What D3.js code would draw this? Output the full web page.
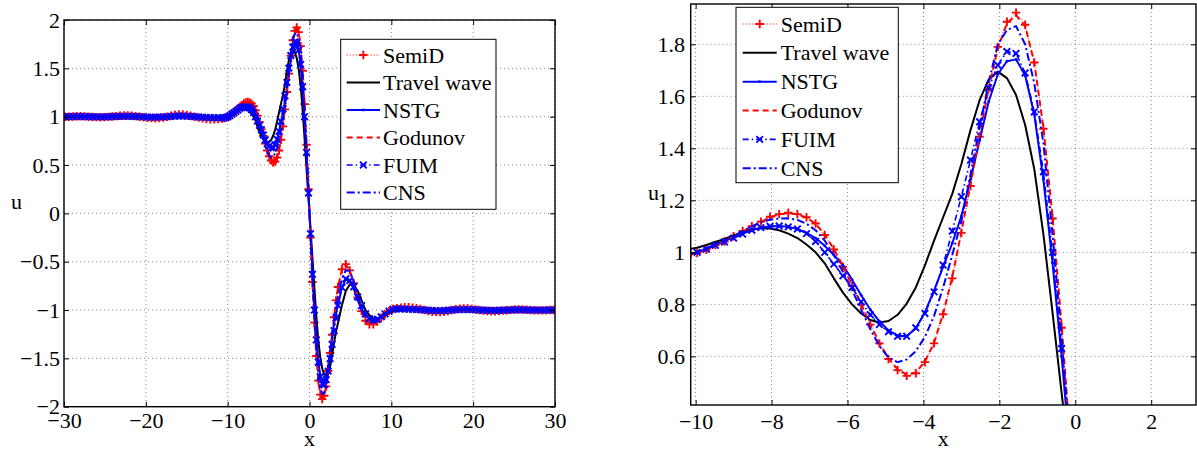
<!DOCTYPE html>
<html>
<head>
<meta charset="utf-8">
<script src="https://cdn.jsdelivr.net/npm/d3@7"></script>
<style>
  body { margin: 0; background: #fff; }
  svg { display: block; }
  svg text { font-family: "Liberation Serif", "Times New Roman", serif; }
</style>
</head>
<body>
<svg id="chart" width="1197" height="451"></svg>
<script>
// --- sample grid (x) : coarse far from the wave, fine near it ---
const xFarLeft = [-29.88, -29.40, -28.92, -28.44, -27.96, -27.48, -27.00, -26.52, -26.04, -25.56, -25.08, -24.60, -24.12, -23.64, -23.16, -22.68, -22.20, -21.72, -21.24, -20.76, -20.28, -19.80, -19.32, -18.84, -18.36, -17.88, -17.40, -16.92, -16.44, -15.96, -15.48, -15.00, -14.52, -14.04, -13.56, -13.08, -12.60, -12.12, -11.64, -11.16, -10.68];
const xCore = [-10.44, -10.20, -9.96, -9.72, -9.48, -9.24, -9.00, -8.76, -8.52, -8.28, -8.04, -7.80, -7.56, -7.32, -7.08, -6.84, -6.60, -6.36, -6.12, -5.88, -5.64, -5.40, -5.16, -4.92, -4.68, -4.44, -4.20, -3.96, -3.72, -3.48, -3.24, -3.00, -2.76, -2.52, -2.28, -2.04, -1.80, -1.56, -1.32, -1.08, -0.84, -0.60, -0.36, -0.12, 0.12, 0.36, 0.60, 0.84, 1.08, 1.32, 1.56, 1.80, 2.04, 2.28, 2.52, 2.76, 3.00, 3.24, 3.48];
const xFarRight = [3.96, 4.44, 4.92, 5.40, 5.88, 6.36, 6.84, 7.32, 7.80, 8.28, 8.76, 9.24, 9.72, 10.20, 10.68, 11.16, 11.64, 12.12, 12.60, 13.08, 13.56, 14.04, 14.52, 15.00, 15.48, 15.96, 16.44, 16.92, 17.40, 17.88, 18.36, 18.84, 19.32, 19.80, 20.28, 20.76, 21.24, 21.72, 22.20, 22.68, 23.16, 23.64, 24.12, 24.60, 25.08, 25.56, 26.04, 26.52, 27.00, 27.48, 27.96, 28.44, 28.92, 29.40, 29.88];
const xs = [...xFarLeft, ...xCore, ...xFarRight];

// --- series values (u) ---
const semiD = [
  1.0, 1.0, 1.002, 1.004, 1.004, 1.003, 1.0, 0.997, 0.995, 0.994, 0.995, 0.998, 1.002, 1.006, 1.01, 1.012, 1.012, 1.01, 1.006, 1.0, 0.994, 0.988, 0.985, 0.984, 0.986, 0.992, 1.0, 1.01, 1.018, 1.022, 1.022, 1.018, 1.01, 1.0, 0.99, 0.982, 0.975, 0.972, 0.972, 0.975, 0.98,
  0.985, 0.99, 0.997, 1.01, 1.028, 1.042, 1.062, 1.082, 1.101, 1.118, 1.137, 1.147, 1.152, 1.147, 1.135, 1.111, 1.067, 1.011, 0.945, 0.87, 0.80, 0.722, 0.65, 0.59, 0.547, 0.525, 0.535, 0.578, 0.65, 0.762, 0.90, 1.075, 1.255, 1.445, 1.63, 1.79, 1.887, 1.922, 1.875, 1.73, 1.475, 1.13, 0.71, 0.25,
  -0.25, -0.71, -1.13, -1.475, -1.73, -1.875, -1.922, -1.887, -1.79, -1.63, -1.445, -1.255, -1.075, -0.90, -0.762,
  -0.578, -0.525, -0.59, -0.722, -0.87, -1.011, -1.111, -1.147, -1.147, -1.118, -1.082, -1.042, -1.01, -0.99,
  -0.98, -0.975, -0.972, -0.972, -0.975, -0.982, -0.99, -1.0, -1.01, -1.018, -1.022, -1.022, -1.018, -1.01, -1.0, -0.992, -0.986, -0.984, -0.985, -0.988, -0.994, -1.0, -1.006, -1.01, -1.012, -1.012, -1.01, -1.006, -1.002, -0.998, -0.995, -0.994, -0.995, -0.997, -1.0, -1.003, -1.004, -1.004, -1.002, -1.0, -1.0
];

const godunov = [
  1.0, 1.0, 1.002, 1.003, 1.003, 1.002, 1.0, 0.998, 0.996, 0.995, 0.996, 0.998, 1.002, 1.005, 1.008, 1.01, 1.01, 1.008, 1.005, 1.0, 0.995, 0.99, 0.988, 0.987, 0.989, 0.994, 1.0, 1.008, 1.015, 1.018, 1.018, 1.015, 1.008, 1.0, 0.992, 0.985, 0.979, 0.977, 0.977, 0.979, 0.983,
  0.987, 0.991, 0.998, 1.01, 1.027, 1.042, 1.061, 1.08, 1.099, 1.117, 1.135, 1.146, 1.15, 1.146, 1.134, 1.11, 1.068, 1.013, 0.948, 0.874, 0.802, 0.724, 0.652, 0.592, 0.55, 0.53, 0.538, 0.58, 0.652, 0.765, 0.905, 1.08, 1.26, 1.45, 1.63, 1.785, 1.88, 1.912, 1.87, 1.73, 1.48, 1.14, 0.72, 0.25,
  -0.25, -0.72, -1.14, -1.48, -1.73, -1.87, -1.912, -1.88, -1.785, -1.63, -1.45, -1.26, -1.08, -0.905, -0.765,
  -0.58, -0.53, -0.592, -0.724, -0.874, -1.013, -1.11, -1.146, -1.146, -1.117, -1.08, -1.042, -1.01, -0.991,
  -0.983, -0.979, -0.977, -0.977, -0.979, -0.985, -0.992, -1.0, -1.008, -1.015, -1.018, -1.018, -1.015, -1.008, -1.0, -0.994, -0.989, -0.987, -0.988, -0.99, -0.995, -1.0, -1.005, -1.008, -1.01, -1.01, -1.008, -1.005, -1.002, -0.998, -0.996, -0.995, -0.996, -0.998, -1.0, -1.002, -1.003, -1.003, -1.002, -1.0, -1.0
];

// flat tails shared by the three blue schemes
const blueTailLeft = [1.0, 1.0, 1.001, 1.001, 1.001, 1.001, 1.0, 0.999, 0.998, 0.998, 0.998, 0.999, 1.001, 1.002, 1.003, 1.004, 1.004, 1.003, 1.002, 1.0, 0.998, 0.996, 0.995, 0.995, 0.996, 0.998, 1.0, 1.003, 1.005, 1.006, 1.006, 1.005, 1.003, 1.0, 0.997, 0.995, 0.993, 0.991, 0.99, 0.989, 0.988];
const blueTailRight = [-0.988, -0.989, -0.99, -0.991, -0.993, -0.995, -0.997, -1.0, -1.003, -1.005, -1.006, -1.006, -1.005, -1.003, -1.0, -0.998, -0.996, -0.995, -0.995, -0.996, -0.998, -1.0, -1.002, -1.003, -1.004, -1.004, -1.003, -1.002, -1.001, -0.999, -0.998, -0.998, -0.998, -0.999, -1.0, -1.001, -1.001, -1.001, -1.001, -1.0, -1.0];

const nstg = [
  ...blueTailLeft,
  0.988, 0.992, 1.0, 1.015, 1.03, 1.045, 1.058, 1.072, 1.085, 1.095, 1.10, 1.10, 1.098, 1.09, 1.075, 1.055, 1.025, 0.99, 0.95, 0.895, 0.835, 0.78, 0.735, 0.70, 0.68, 0.677, 0.708, 0.77, 0.853, 0.945, 1.035, 1.14, 1.28, 1.43, 1.58, 1.685, 1.735, 1.742, 1.68, 1.53, 1.28, 0.96, 0.60, 0.20,
  -0.20, -0.60, -0.96, -1.28, -1.53, -1.68, -1.742, -1.735, -1.685, -1.58, -1.43, -1.28, -1.14, -1.035, -0.945,
  -0.77, -0.677, -0.70, -0.78, -0.895, -0.99, -1.055, -1.09, -1.10, -1.095, -1.072, -1.045, -1.015, -0.992,
  ...blueTailRight
];

const fuim = [
  ...blueTailLeft,
  0.988, 0.992, 1.0, 1.012, 1.027, 1.04, 1.055, 1.07, 1.085, 1.095, 1.10, 1.101, 1.098, 1.09, 1.072, 1.042, 1.0, 0.955, 0.91, 0.865, 0.81, 0.76, 0.722, 0.695, 0.677, 0.677, 0.71, 0.765, 0.848, 0.951, 1.082, 1.214, 1.355, 1.502, 1.632, 1.72, 1.772, 1.765, 1.69, 1.54, 1.31, 1.0, 0.63, 0.21,
  -0.21, -0.63, -1.0, -1.31, -1.54, -1.69, -1.765, -1.772, -1.72, -1.632, -1.502, -1.355, -1.214, -1.082, -0.951,
  -0.765, -0.677, -0.695, -0.76, -0.865, -0.955, -1.042, -1.09, -1.101, -1.095, -1.07, -1.04, -1.012, -0.992,
  ...blueTailRight
];

const cns = [
  ...blueTailLeft,
  0.987, 0.992, 1.0, 1.014, 1.03, 1.045, 1.062, 1.082, 1.10, 1.115, 1.126, 1.13, 1.131, 1.125, 1.11, 1.085, 1.045, 0.99, 0.925, 0.855, 0.78, 0.705, 0.64, 0.595, 0.578, 0.588, 0.62, 0.675, 0.755, 0.865, 0.99, 1.12, 1.30, 1.48, 1.655, 1.80, 1.855, 1.87, 1.80, 1.65, 1.42, 1.07, 0.67, 0.23,
  -0.23, -0.67, -1.07, -1.42, -1.65, -1.80, -1.87, -1.855, -1.80, -1.655, -1.48, -1.30, -1.12, -0.99, -0.865,
  -0.675, -0.588, -0.595, -0.705, -0.855, -0.99, -1.085, -1.125, -1.13, -1.115, -1.082, -1.045, -1.014, -0.992,
  ...blueTailRight
];

const travelWave = [
  1.0, 1.0, 1.0, 1.0, 1.0, 1.0, 1.0, 1.0, 1.0, 1.0, 1.0, 1.0, 1.0, 1.0, 1.0, 1.0, 1.0, 1.0, 1.0, 1.0, 1.0, 1.0, 1.0, 1.0, 1.0, 1.0, 1.0, 1.0, 1.0, 1.0, 1.0, 1.0, 1.0, 1.0, 1.0, 0.999, 0.999, 0.999, 1.0, 1.002, 1.005,
  1.008, 1.012, 1.018, 1.028, 1.04, 1.052, 1.065, 1.078, 1.088, 1.093, 1.092, 1.085, 1.072, 1.055, 1.03, 1.0, 0.958, 0.90, 0.845, 0.80, 0.765, 0.74, 0.73, 0.736, 0.76, 0.803, 0.865, 0.95, 1.045, 1.135, 1.225, 1.34, 1.47, 1.585, 1.665, 1.695, 1.67, 1.605, 1.49, 1.32, 1.07, 0.77, 0.46, 0.15,
  -0.15, -0.46, -0.77, -1.07, -1.32, -1.49, -1.605, -1.67, -1.695, -1.665, -1.585, -1.47, -1.34, -1.225, -1.135,
  -0.95, -0.803, -0.736, -0.74, -0.80, -0.90, -1.0, -1.055, -1.085, -1.093, -1.078, -1.052, -1.028, -1.012,
  -1.005, -1.002, -1.0, -0.999, -0.999, -0.999, -1.0, -1.0, -1.0, -1.0, -1.0, -1.0, -1.0, -1.0, -1.0, -1.0, -1.0, -1.0, -1.0, -1.0, -1.0, -1.0, -1.0, -1.0, -1.0, -1.0, -1.0, -1.0, -1.0, -1.0, -1.0, -1.0, -1.0, -1.0, -1.0, -1.0, -1.0, -1.0, -1.0, -1.0, -1.0
];

// axis ticks
const leftXTicks = [-30, -20, -10, 0, 10, 20, 30];
const leftYTicks = [-2, -1.5, -1, -0.5, 0, 0.5, 1, 1.5, 2];
const rightXTicks = [-10, -8, -6, -4, -2, 0, 2];
const rightYTicks = [0.6, 0.8, 1, 1.2, 1.4, 1.6, 1.8];

const series = [
  { name: "SemiD", values: semiD, color: "#ff0000", width: 1, dash: "1,2", marker: "plus" },
  { name: "Travel wave", values: travelWave, color: "#000000", width: 2, dash: null, marker: null },
  { name: "NSTG", values: nstg, color: "#0000ff", width: 2, dash: null, marker: "dot" },
  { name: "Godunov", values: godunov, color: "#ff0000", width: 2, dash: "6,4", marker: null },
  { name: "FUIM", values: fuim, color: "#0000ff", width: 1.6, dash: "6,3,1.5,3", marker: "cross" },
  { name: "CNS", values: cns, color: "#0000ff", width: 2, dash: "8,3,2,3", marker: null }
];

const FONT = "Liberation Serif, Times New Roman, serif";
const fmt = d => String(d).replace("-", "\u2212");
const svg = d3.select("#chart");

function drawMarker(sel, type, color) {
  if (type === "plus") {
    sel.append("path").attr("d", "M-4.2,0H4.2M0,-4.2V4.2")
      .attr("stroke", color).attr("stroke-width", 1.9).attr("fill", "none");
  } else if (type === "cross") {
    sel.append("path").attr("d", "M-3.3,-3.3L3.3,3.3M-3.3,3.3L3.3,-3.3")
      .attr("stroke", color).attr("stroke-width", 1.9).attr("fill", "none");
  } else if (type === "dot") {
    sel.append("circle").attr("r", 1.4).attr("fill", color);
  }
}

function drawPanel(p) {
  const x = d3.scaleLinear().domain(p.xDomain).range([p.left, p.right]);
  const y = d3.scaleLinear().domain(p.yDomain).range([p.bottom, p.top]);
  const w = p.right - p.left, h = p.bottom - p.top;

  svg.append("clipPath").attr("id", "clip-" + p.id)
    .append("rect").attr("x", p.left).attr("y", p.top).attr("width", w).attr("height", h);

  // dotted grid
  const grid = svg.append("g").attr("stroke", "#8c8c8c").attr("stroke-width", 1).attr("stroke-dasharray", "1,3");
  grid.selectAll(".gx").data(p.xTicks).join("line")
    .attr("x1", d => x(d)).attr("x2", d => x(d)).attr("y1", p.top).attr("y2", p.bottom);
  grid.selectAll(".gy").data(p.yTicks).join("line")
    .attr("y1", d => y(d)).attr("y2", d => y(d)).attr("x1", p.left).attr("x2", p.right);

  // curves
  const plot = svg.append("g").attr("clip-path", `url(#clip-${p.id})`);
  const line = d3.line().x((d, i) => x(xs[i])).y(d => y(d));
  series.forEach(s => {
    plot.append("path").datum(s.values)
      .attr("d", line)
      .attr("fill", "none")
      .attr("stroke", s.color)
      .attr("stroke-width", s.width)
      .attr("stroke-dasharray", s.dash)
      .attr("stroke-linejoin", "round");
    if (s.marker) {
      plot.append("g").selectAll("g").data(s.values).join("g")
        .attr("transform", (d, i) => `translate(${x(xs[i])},${y(d)})`)
        .each(function () { drawMarker(d3.select(this), s.marker, s.color); });
    }
  });

  // axes, ticks pointing inward on all four sides
  const axisStyle = g => {
    g.attr("font-family", FONT).attr("font-size", 22);
    g.select(".domain").remove();
    g.selectAll(".tick line").attr("stroke", "#000").attr("stroke-width", 1);
    g.selectAll(".tick text").attr("fill", "#000").attr("font-family", FONT);
  };
  svg.append("g").attr("transform", `translate(0,${p.bottom})`)
    .call(d3.axisBottom(x).tickValues(p.xTicks).tickFormat(fmt).tickSize(-5).tickPadding(p.xPad))
    .call(axisStyle);
  svg.append("g").attr("transform", `translate(0,${p.top})`)
    .call(d3.axisTop(x).tickValues(p.xTicks).tickFormat("").tickSize(-5))
    .call(axisStyle);
  svg.append("g").attr("transform", `translate(${p.left},0)`)
    .call(d3.axisLeft(y).tickValues(p.yTicks).tickFormat(fmt).tickSize(-5).tickPadding(p.yPad))
    .call(axisStyle);
  svg.append("g").attr("transform", `translate(${p.right},0)`)
    .call(d3.axisRight(y).tickValues(p.yTicks).tickFormat("").tickSize(-5))
    .call(axisStyle);

  svg.append("rect").attr("x", p.left).attr("y", p.top).attr("width", w).attr("height", h)
    .attr("fill", "none").attr("stroke", "#000").attr("stroke-width", 1.4);

  // axis labels
  svg.append("text").attr("x", (p.left + p.right) / 2).attr("y", 446)
    .attr("text-anchor", "middle").attr("font-family", FONT).attr("font-size", 22).text("x");
  svg.append("text").attr("x", p.uLabel[0]).attr("y", p.uLabel[1])
    .attr("text-anchor", "middle").attr("font-family", FONT).attr("font-size", 22).text("u");

  // legend
  const L = p.legend;
  svg.append("rect").attr("x", L.x).attr("y", L.y).attr("width", L.w).attr("height", L.h)
    .attr("fill", "#fff").attr("stroke", "#000").attr("stroke-width", 1);
  series.forEach((s, i) => {
    const cy = L.firstY + i * L.step;
    svg.append("line").attr("x1", L.lineX0).attr("x2", L.lineX1).attr("y1", cy).attr("y2", cy)
      .attr("stroke", s.color).attr("stroke-width", s.width).attr("stroke-dasharray", s.dash);
    if (s.marker) {
      drawMarker(svg.append("g").attr("transform", `translate(${(L.lineX0 + L.lineX1) / 2},${cy})`), s.marker, s.color);
    }
    svg.append("text").attr("x", L.textX).attr("y", cy + 7.5)
      .attr("font-family", FONT).attr("font-size", 22).text(s.name);
  });
}

drawPanel({
  id: "left", xDomain: [-30, 30], yDomain: [-2, 2],
  left: 64, right: 555, top: 20, bottom: 406.7,
  xTicks: leftXTicks, yTicks: leftYTicks, xPad: 6, yPad: 4,
  uLabel: [16.5, 209],
  legend: { x: 340.7, y: 39.3, w: 155.3, h: 170, firstY: 55, step: 27.5, lineX0: 346.7, lineX1: 380, textX: 383 }
});

drawPanel({
  id: "right", xDomain: [-10.13, 3.18], yDomain: [0.413, 1.955],
  left: 690.7, right: 1196, top: 4, bottom: 405,
  xTicks: rightXTicks, yTicks: rightYTicks, xPad: 8, yPad: 5.7,
  uLabel: [653.5, 200],
  legend: { x: 736, y: 7.3, w: 162.3, h: 175.4, firstY: 24, step: 28.85, lineX0: 742.7, lineX1: 776.7, textX: 780.7 }
});
</script>
</body>
</html>
